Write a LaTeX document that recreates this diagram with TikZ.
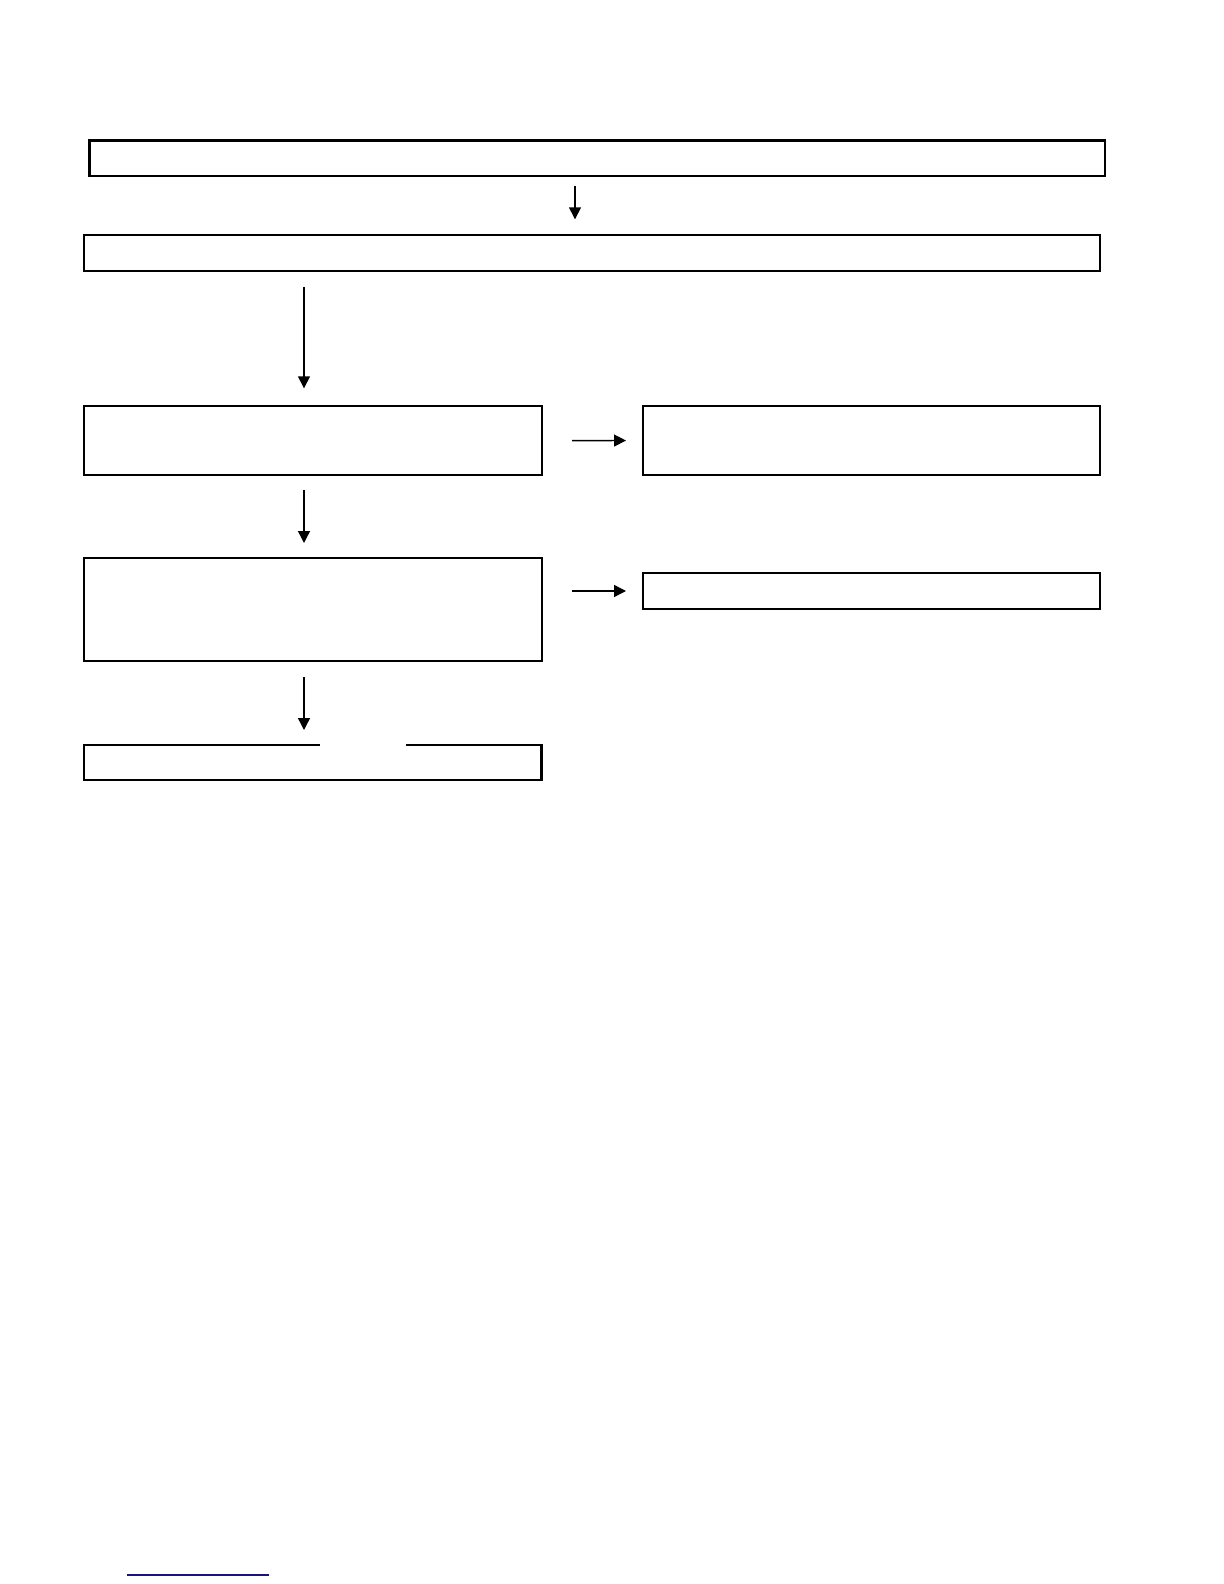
\documentclass[tikz,border=0pt]{standalone}
\usepackage{tikz}
\usetikzlibrary{arrows.meta}
\usetikzlibrary{calc}

\definecolor{linkblue}{RGB}{20,22,125}

\tikzset{
  flowbox/.style={draw, line width=1pt, inner sep=0pt, outer sep=0pt, anchor=north west},
  flow/.style={line width=0.7pt, -{Triangle[length=6pt, width=6pt]}}
}

\begin{document}
\begin{tikzpicture}[x=0.5pt, y=-0.5pt]
    \useasboundingbox (0, 0) rectangle (1224, 1584);
    % boxes
    \node[flowbox, line width=1.2pt, minimum width=507.75pt, minimum height=17.65pt] (first) at (89.5, 140.7) {};
    \node[flowbox, line width=1.2pt, minimum width=508.15pt, minimum height=17.85pt] (second) at (83.7, 235) {};
    \node[flowbox, minimum width=228.9pt, minimum height=34.65pt] (leftA) at (83.7, 406) {};
    \node[flowbox, minimum width=228.5pt, minimum height=34.5pt] (rightA) at (643, 406) {};
    \node[flowbox, minimum width=228.9pt, minimum height=51.5pt] (leftB) at (83.7, 558) {};
    \node[flowbox, minimum width=228.5pt, minimum height=18pt] (rightB) at (643, 573) {};
    \node[flowbox, line width=1.2pt, minimum width=228.9pt, minimum height=17.5pt] (last) at (83.7, 745) {};
    \draw[white, line width=2pt] ($(last.north west) + (236.3, 0)$) -- ++(86, 0);
    % arrows
    \coordinate (midcol) at (575, 0);
    \coordinate (leftcol) at (304, 0);
    \draw[flow, shorten <=4.85pt, shorten >=7.85pt] (first.south -| midcol) -- (second.north -| midcol);
    \draw[flow, shorten <=8pt, shorten >=8.85pt] (second.south -| leftcol) -- (leftA.north -| leftcol);
    \draw[flow, shorten <=7.35pt, shorten >=7.5pt] (leftA.south -| leftcol) -- (leftB.north -| leftcol);
    \draw[flow, shorten <=8pt, shorten >=7.5pt] (leftB.south -| leftcol) -- (last.north -| leftcol);
    \draw[flow, shorten <=15.25pt, shorten >=8.5pt] (leftA.east) -- (rightA.west);
    \draw[flow, shorten <=15.25pt, shorten >=8.5pt] (leftB.east |- rightB.west) -- (rightB.west);
    % footer rule
    \draw[linkblue, line width=0.7pt] (127, 1575) -- (269, 1575);
\end{tikzpicture}
\end{document}
